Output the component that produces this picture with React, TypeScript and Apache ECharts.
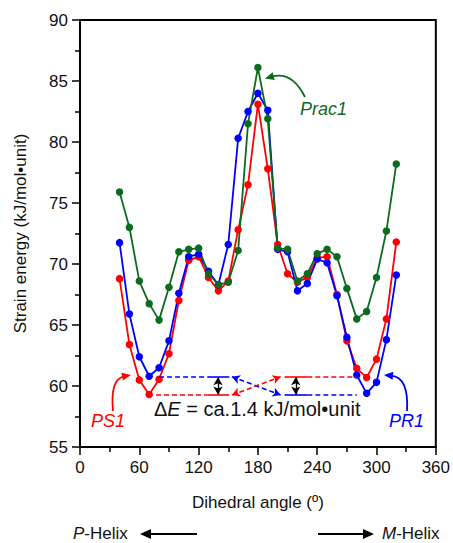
import React, { useEffect, useRef } from "react";
import * as echarts from "echarts";

const angles = [40, 50, 60, 70, 80, 90, 100, 110, 120, 130, 140, 150, 160, 170, 180, 190, 200, 210, 220, 230, 240, 250, 260, 270, 280, 290, 300, 310, 320];
const ps1 = [68.8, 63.4, 60.5, 59.3, 60.55, 62.65, 67.0, 70.3, 70.6, 68.9, 67.8, 68.6, 72.8, 76.5, 83.1, 77.8, 71.6, 69.2, 68.5, 68.9, 70.5, 70.6, 67.5, 63.7, 61.45, 60.7, 62.2, 65.5, 71.8];
const pr1 = [71.75, 65.9, 62.4, 60.8, 61.5, 63.7, 67.6, 70.6, 70.8, 69.4, 68.3, 71.6, 80.3, 82.5, 84.0, 82.6, 71.2, 71.0, 67.8, 68.4, 70.4, 70.1, 67.4, 64.0, 60.9, 59.4, 60.3, 63.8, 69.1];
const prac1 = [75.9, 73.0, 68.6, 66.75, 65.4, 68.1, 71.0, 71.2, 71.3, 69.2, 68.3, 68.5, 71.1, 81.5, 86.1, 81.9, 71.3, 71.2, 68.6, 69.2, 70.85, 71.2, 70.6, 68.0, 65.5, 66.1, 68.9, 72.7, 78.2];

const xMin = 0;
const xMax = 360;
const xStep = 60;
const yMin = 55;
const yMax = 90;
const yStep = 5;

// energy levels of the minima used by the ΔE annotation
const levelHigh = 60.76;
const levelLow = 59.26;

const RED = "#ff0000";
const BLUE = "#0000ff";
const GREEN = "#0b6b1e";
const FONT = "'Liberation Sans', Arial, sans-serif";

function arrowHead(tipX: number, tipY: number, fromX: number, fromY: number, len: number, half: number, color: string) {
  const dx = tipX - fromX;
  const dy = tipY - fromY;
  const d = Math.sqrt(dx * dx + dy * dy) || 1;
  const ux = dx / d;
  const uy = dy / d;
  const bx = tipX - ux * len;
  const by = tipY - uy * len;
  return {
    type: "polygon",
    shape: {
      points: [
        [tipX, tipY],
        [bx - uy * half, by + ux * half],
        [bx + uy * half, by - ux * half],
      ],
    },
    style: { fill: color },
    silent: true,
  };
}

function curvedArrow(x1: number, y1: number, cx: number, cy: number, tx: number, ty: number, color: string) {
  const dx = tx - cx;
  const dy = ty - cy;
  const d = Math.sqrt(dx * dx + dy * dy) || 1;
  const ex = tx - (dx / d) * 7;
  const ey = ty - (dy / d) * 7;
  return [
    {
      type: "bezierCurve",
      shape: { x1, y1, x2: ex, y2: ey, cpx1: cx, cpy1: cy },
      style: { stroke: color, lineWidth: 1.8, fill: null },
      silent: true,
    },
    arrowHead(tx, ty, cx, cy, 9, 4, color),
  ];
}

function seg(x1: number, y1: number, x2: number, y2: number, color: string, dashed: boolean, arrows = false, width = 1.6) {
  return [
    { coord: [x1, y1], symbol: arrows ? "arrow" : "none", symbolSize: [7, 8] },
    {
      coord: [x2, y2],
      symbol: arrows ? "arrow" : "none",
      symbolSize: [7, 8],
      lineStyle: { color, width, type: dashed ? [5, 3] : "solid" },
    },
  ];
}

export default function App() {
  const ref = useRef<HTMLDivElement>(null);

  useEffect(() => {
    if (!ref.current) return;
    const chart = echarts.init(ref.current, undefined, { renderer: "svg" });

    const mk = (vals: number[]) => angles.map((a, i) => [a, vals[i]]);

    const markData = [
      // left side levels
      seg(80, levelHigh, 129, levelHigh, BLUE, true),
      seg(129, levelHigh, 151, levelHigh, BLUE, false),
      seg(77, levelLow, 129, levelLow, RED, true),
      seg(129, levelLow, 151, levelLow, RED, false),
      // right side levels
      seg(207, levelHigh, 230, levelHigh, RED, false),
      seg(230, levelHigh, 280, levelHigh, RED, true),
      seg(207, levelLow, 230, levelLow, BLUE, false),
      seg(230, levelLow, 280, levelLow, BLUE, true),
      // crossing arrows
      seg(153.7, levelHigh, 203, levelLow, BLUE, true, true),
      seg(153.7, levelLow, 203, levelHigh, RED, true, true),
      // double-headed ΔE arrows
      seg(139.6, levelHigh - 0.05, 139.6, levelLow + 0.05, "#000", false, true, 1.4),
      seg(218.3, levelHigh - 0.05, 218.3, levelLow + 0.05, "#000", false, true, 1.4),
    ];

    const lineSeries = (name: string, vals: number[], color: string, extra: any = {}) => ({
      name,
      type: "line",
      data: mk(vals),
      symbol: "circle",
      symbolSize: 7.5,
      showSymbol: true,
      itemStyle: { color },
      lineStyle: { color, width: 1.8 },
      emphasis: { disabled: true },
      silent: true,
      ...extra,
    });

    const helixRich = {
      n: { fontSize: 17, fontFamily: FONT, fill: "#111", lineHeight: 17 },
      i: { fontSize: 17, fontFamily: FONT, fontStyle: "italic", fill: "#111", lineHeight: 17 },
    };

    const option: any = {
      animation: false,
      textStyle: { fontFamily: FONT },
      grid: {
        left: 80,
        right: 16,
        top: 20,
        bottom: 96,
        show: true,
        borderColor: "#000",
        borderWidth: 2,
        backgroundColor: "transparent",
      },
      xAxis: {
        type: "value",
        min: xMin,
        max: xMax,
        interval: xStep,
        name: "Dihedral angle (º)",
        nameLocation: "middle",
        nameGap: 47,
        nameTextStyle: { fontSize: 17, color: "#111", fontFamily: FONT },
        axisLine: { show: true, lineStyle: { color: "#000", width: 2 } },
        axisTick: { show: true, length: 8, lineStyle: { color: "#000", width: 1.5 } },
        minorTick: { show: true, splitNumber: 2, length: 5, lineStyle: { color: "#000", width: 1.5 } },
        axisLabel: { fontSize: 17, color: "#111", margin: 12, fontFamily: FONT },
        splitLine: { show: false },
      },
      yAxis: {
        type: "value",
        min: yMin,
        max: yMax,
        interval: yStep,
        name: "Strain energy (kJ/mol•unit)",
        nameLocation: "middle",
        nameGap: 51,
        nameTextStyle: { fontSize: 17, color: "#111", fontFamily: FONT },
        axisLine: { show: true, lineStyle: { color: "#000", width: 2 } },
        axisTick: { show: true, length: 8, lineStyle: { color: "#000", width: 1.5 } },
        minorTick: { show: true, splitNumber: 2, length: 5, lineStyle: { color: "#000", width: 1.5 } },
        axisLabel: { fontSize: 17, color: "#111", margin: 12, fontFamily: FONT },
        splitLine: { show: false },
      },
      series: [
        lineSeries("PS1", ps1, RED, {
          markLine: {
            silent: true,
            symbol: "none",
            label: { show: false },
            emphasis: { disabled: true },
            data: markData,
          },
        }),
        lineSeries("PR1", pr1, BLUE),
        lineSeries("Prac1", prac1, GREEN),
      ],
      graphic: [
        ...curvedArrow(305, 97, 292, 71, 265, 78.5, GREEN),
        ...curvedArrow(113, 411, 110, 379, 131, 375, RED),
        ...curvedArrow(407, 411, 409, 377, 384, 375, BLUE),
        {
          type: "text",
          left: 300,
          top: 100,
          style: { text: "Prac1", fill: GREEN, font: `italic 18px ${FONT}` },
          silent: true,
        },
        {
          type: "text",
          left: 91,
          top: 412,
          style: { text: "PS1", fill: RED, font: `italic 18px ${FONT}` },
          silent: true,
        },
        {
          type: "text",
          left: 389,
          top: 412,
          style: { text: "PR1", fill: BLUE, font: `italic 18px ${FONT}` },
          silent: true,
        },
        {
          type: "text",
          left: 154,
          top: 399,
          style: {
            text: "{n|Δ}{i|E}{n| = ca.1.4 kJ/mol•unit}",
            fill: "#111",
            font: `20px ${FONT}`,
            rich: {
              n: { fontSize: 20, fontFamily: FONT, fill: "#111" },
              i: { fontSize: 20, fontFamily: FONT, fontStyle: "italic", fill: "#111" },
            },
          },
          silent: true,
        },
        {
          type: "text",
          left: 73,
          top: 525,
          style: { text: "{i|P}{n|-Helix}", fill: "#111", rich: helixRich },
          silent: true,
        },
        {
          type: "line",
          shape: { x1: 148, y1: 534, x2: 197, y2: 534 },
          style: { stroke: "#000", lineWidth: 2 },
          silent: true,
        },
        arrowHead(140, 534, 197, 534, 11, 5, "#000"),
        {
          type: "line",
          shape: { x1: 318, y1: 534, x2: 366, y2: 534 },
          style: { stroke: "#000", lineWidth: 2 },
          silent: true,
        },
        arrowHead(374, 534, 318, 534, 11, 5, "#000"),
        {
          type: "text",
          left: 382,
          top: 525,
          style: { text: "{i|M}{n|-Helix}", fill: "#111", rich: helixRich },
          silent: true,
        },
      ],
    };

    chart.setOption(option);
    return () => chart.dispose();
  }, []);

  return (
    <div
      ref={ref}
      style={{ position: "absolute", left: 0, top: 0, width: 453, height: 543, background: "#fff" }}
    />
  );
}
